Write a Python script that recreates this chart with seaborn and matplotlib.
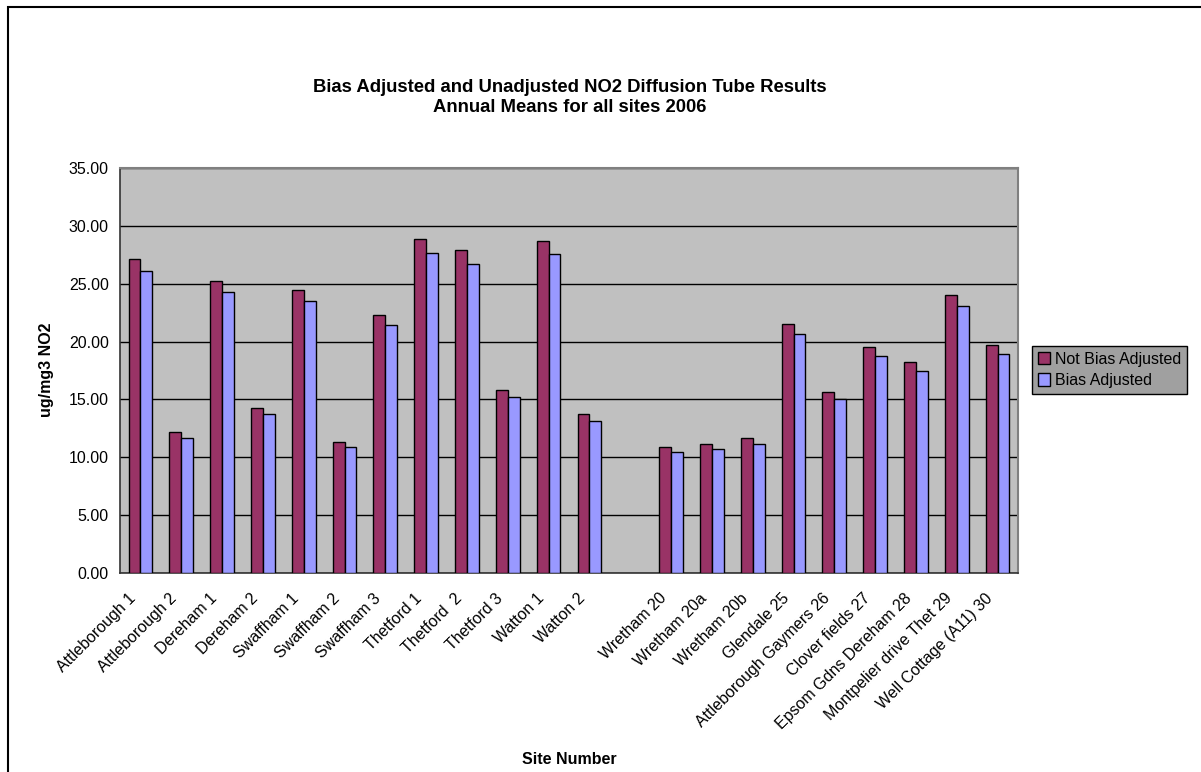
import seaborn as sns
import pandas as pd
import matplotlib.pyplot as plt
from matplotlib.patches import Rectangle
from matplotlib.ticker import FixedLocator, FormatStrFormatter
from matplotlib.transforms import ScaledTranslation

sns.set_style("white")
plt.rcParams['font.family'] = ['Liberation Sans', 'DejaVu Sans']
plt.rcParams['text.color'] = 'black'

# site names (one empty slot between Watton 2 and Wretham 20)
sites = ["Attleborough 1", "Attleborough 2", "Dereham 1", "Dereham 2",
         "Swaffham 1", "Swaffham 2", "Swaffham 3", "Thetford 1",
         "Thetford  2", "Thetford 3", "Watton 1", "Watton 2", "",
         "Wretham 20", "Wretham 20a", "Wretham 20b", "Glendale 25",
         "Attleborough Gaymers 26", "Clover fields 27",
         "Epsom Gdns Dereham 28", "Montpelier drive Thet 29",
         "Well Cottage (A11) 30"]

not_adjusted = [27.17, 12.16, 25.27, 14.29, 24.49, 11.29, 22.33, 28.87,
                27.89, 15.81, 28.72, 13.71, None, 10.89, 11.15, 11.66,
                21.54, 15.64, 19.53, 18.20, 23.99, 19.70]
adjusted = [26.10, 11.70, 24.26, 13.74, 23.51, 10.86, 21.43, 27.69,
            26.74, 15.18, 27.53, 13.16, None, 10.43, 10.71, 11.17,
            20.68, 15.03, 18.75, 17.48, 23.04, 18.92]

series = ["Not Bias Adjusted", "Bias Adjusted"]
colors = ["#993366", "#9999FF"]

df = pd.concat([
    pd.DataFrame({"site": sites, "value": not_adjusted, "series": series[0]}),
    pd.DataFrame({"site": sites, "value": adjusted, "series": series[1]}),
], ignore_index=True)
df["value"] = df["value"].astype(float)

fig = plt.figure(figsize=(12.01, 7.72), dpi=100)
ax = fig.add_axes([120 / 1201, 1 - 573 / 772, 898 / 1201, 405 / 772])

sns.barplot(data=df, x="site", y="value", hue="series", order=sites,
            hue_order=series, palette=colors, width=0.58, gap=0,
            edgecolor="black", linewidth=1, saturation=1, ax=ax, zorder=3)

ax.set_facecolor("#C0C0C0")
ax.set_ylim(0, 35)
ax.set_xlim(-0.5, len(sites) - 0.5)
ax.yaxis.set_major_locator(FixedLocator([0, 5, 10, 15, 20, 25, 30, 35]))
ax.yaxis.set_major_formatter(FormatStrFormatter("%.2f"))
ax.grid(axis="y", color="black", linewidth=1, zorder=1)
ax.set_axisbelow(True)

ax.set_xticks(range(len(sites)))
ax.set_xticklabels(sites, rotation=45, ha="right", va="center",
                   rotation_mode="anchor", fontsize=11.5)
ax.set_xticks([i - 0.5 for i in range(len(sites) + 1)], minor=True)
ax.tick_params(axis="x", which="major", length=0, pad=16.5, labelcolor="black")
ax.tick_params(axis="x", which="minor", length=5, width=1, color="black",
               direction="out")
ax.tick_params(axis="y", length=5, width=1, color="black", direction="out",
               labelsize=11.5, pad=3, labelcolor="black")
shift = ScaledTranslation(-7 / 100, 0, fig.dpi_scale_trans)
for lbl in ax.get_xticklabels():
    lbl.set_transform(lbl.get_transform() + shift)

for side in ["top", "right"]:
    ax.spines[side].set_color("#808080")
    ax.spines[side].set_linewidth(1.5)
for side in ["left", "bottom"]:
    ax.spines[side].set_color("#333333")
    ax.spines[side].set_linewidth(1.2)

ax.set_xlabel("")
ax.set_ylabel("")
fig.text(47 / 1201, 1 - 370 / 772, "ug/mg3 NO2", rotation=90, fontsize=11.5,
         fontweight="bold", ha="center", va="center")
fig.text(569 / 1201, 1 - 760 / 772, "Site Number", fontsize=11.5,
         fontweight="bold", ha="center", va="center")
fig.text(570 / 1201, 1 - 97.5 / 772,
         "Bias Adjusted and Unadjusted NO2 Diffusion Tube Results\nAnnual Means for all sites 2006",
         fontsize=13.3, fontweight="bold", ha="center", va="center",
         linespacing=1.25)

handles, labels = ax.get_legend_handles_labels()
leg = ax.legend(handles, labels, loc="upper left",
                bbox_to_anchor=(1032 / 1201, 1 - 346 / 772),
                bbox_transform=fig.transFigure, fontsize=11.5, frameon=True,
                fancybox=False, facecolor="#A0A0A0", edgecolor="black",
                framealpha=1, handlelength=0.8, handleheight=0.8,
                handletextpad=0.3, borderpad=0.35, labelspacing=0.4,
                borderaxespad=0)
for t in leg.get_texts():
    t.set_color("black")

fig.patches.append(Rectangle((8 / 1201, -0.1), 1.2, 1.1 - 7 / 772,
                             transform=fig.transFigure, fill=False,
                             edgecolor="black", linewidth=1.5))

fig.savefig("out.png", dpi=100)
